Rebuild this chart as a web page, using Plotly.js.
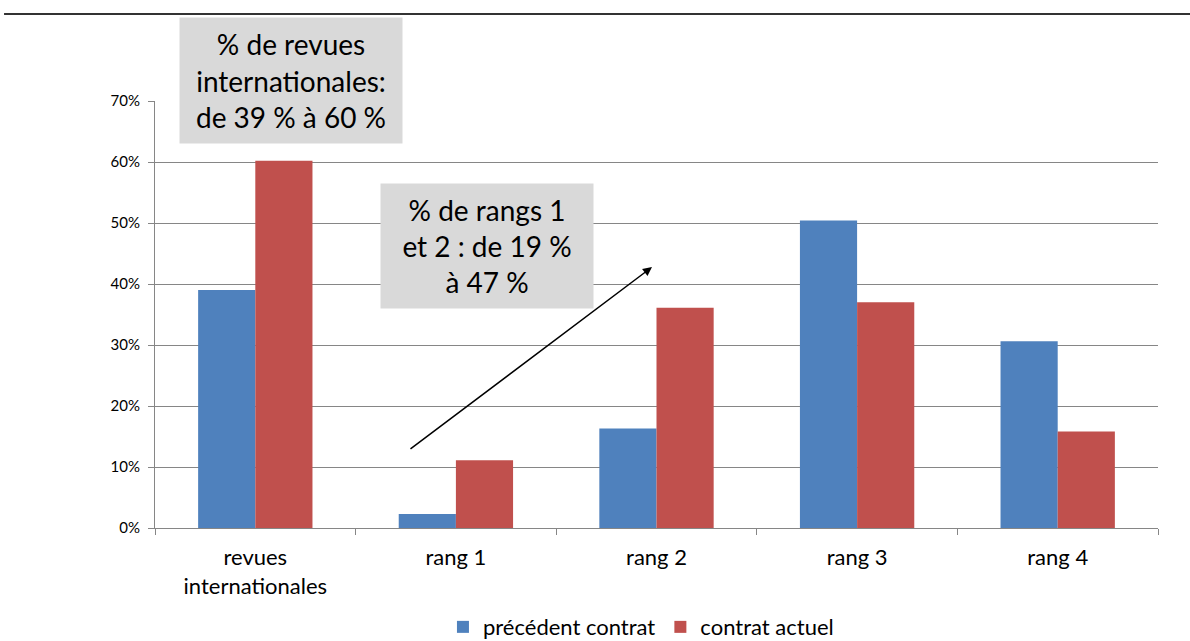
<!DOCTYPE html>
<html>
<head>
<meta charset="utf-8">
<script src="https://cdn.plot.ly/plotly-3.0.1.min.js"></script>
<style>html,body{margin:0;padding:0;background:#fff;}#chart{width:1190px;height:641px;}</style>
</head>
<body>
<div id="chart"></div>
<script>
var categories = ["revues<br>internationales", "rang 1", "rang 2", "rang 3", "rang 4"];
var precedentContrat = [39.0, 2.3, 16.3, 50.4, 30.6];
var contratActuel = [60.2, 11.1, 36.1, 37.0, 15.8];
var seriesNames = ["précédent contrat", "contrat actuel"];
var yTicks = [0, 10, 20, 30, 40, 50, 60, 70];
var yTickLabels = yTicks.map(function (v) { return v + "%"; });

var font = "Lato, 'Open Sans', sans-serif";

var traces = [
  {type: "bar", name: seriesNames[0], x: categories, y: precedentContrat,
   marker: {color: "#4f81bd"}, hoverinfo: "skip"},
  {type: "bar", name: seriesNames[1], x: categories, y: contratActuel,
   marker: {color: "#c0504d"}, hoverinfo: "skip"}
];

var layout = {
  width: 1190, height: 641,
  margin: {l: 155, r: 32, t: 101, b: 113, autoexpand: false},
  paper_bgcolor: "#ffffff", plot_bgcolor: "#ffffff",
  font: {family: font, color: "#000"},
  barmode: "group", bargap: 0.43, bargroupgap: 0,
  showlegend: true,
  legend: {orientation: "h", x: 0.4845, xanchor: "center", y: -0.232, yanchor: "middle",
           font: {size: 22, family: font, color: "#000"}, traceorder: "normal",
           itemwidth: 30, tracegroupgap: 0},
  xaxis: {type: "category", showline: true, linecolor: "#868686", linewidth: 1,
          ticks: "outside", tickson: "boundaries", ticklen: 6, tickcolor: "#868686",
          ticklabelstandoff: 10,
          tickfont: {size: 22, family: font, color: "#000"}, showgrid: false, fixedrange: true},
  yaxis: {range: [0, 70], tickvals: yTicks, ticktext: yTickLabels, showline: true,
          linecolor: "#868686", linewidth: 1, ticks: "outside", ticklen: 6, tickcolor: "#868686",
          ticklabelstandoff: 5,
          gridcolor: "#868686", gridwidth: 1, zeroline: false,
          tickfont: {size: 15, family: font, color: "#000"}, fixedrange: true},
  shapes: [
    {type: "line", xref: "paper", yref: "paper", x0: -0.1505, x1: 1.04, y0: 1.2037, y1: 1.2037,
     line: {color: "#333333", width: 2}}
  ],
  annotations: [
    {xref: "paper", yref: "paper", x: 0.1356, y: 1.048, xanchor: "center", yanchor: "middle",
     text: "% de revues<br>internationales:<br>de 39 % à 60 %", showarrow: false,
     bgcolor: "#d9d9d9", width: 222, height: 125, borderpad: 0,
     font: {size: 28, family: font, color: "#000"}, align: "center"},
    {xref: "paper", yref: "paper", x: 0.331, y: 0.660, xanchor: "center", yanchor: "middle",
     text: "% de rangs 1<br>et 2 : de 19 %<br>à 47 %", showarrow: false,
     bgcolor: "#d9d9d9", width: 212, height: 124, borderpad: 0,
     font: {size: 28, family: font, color: "#000"}, align: "center"},
    {xref: "paper", yref: "paper", x: 0.4955, y: 0.611, axref: "pixel", ayref: "pixel",
     ax: -243, ay: 183, showarrow: true, arrowhead: 2, arrowsize: 1.2, arrowwidth: 1.5,
     arrowcolor: "#000", text: ""}
  ]
};

Plotly.newPlot("chart", traces, layout, {staticPlot: true, displayModeBar: false});
</script>
</body>
</html>
